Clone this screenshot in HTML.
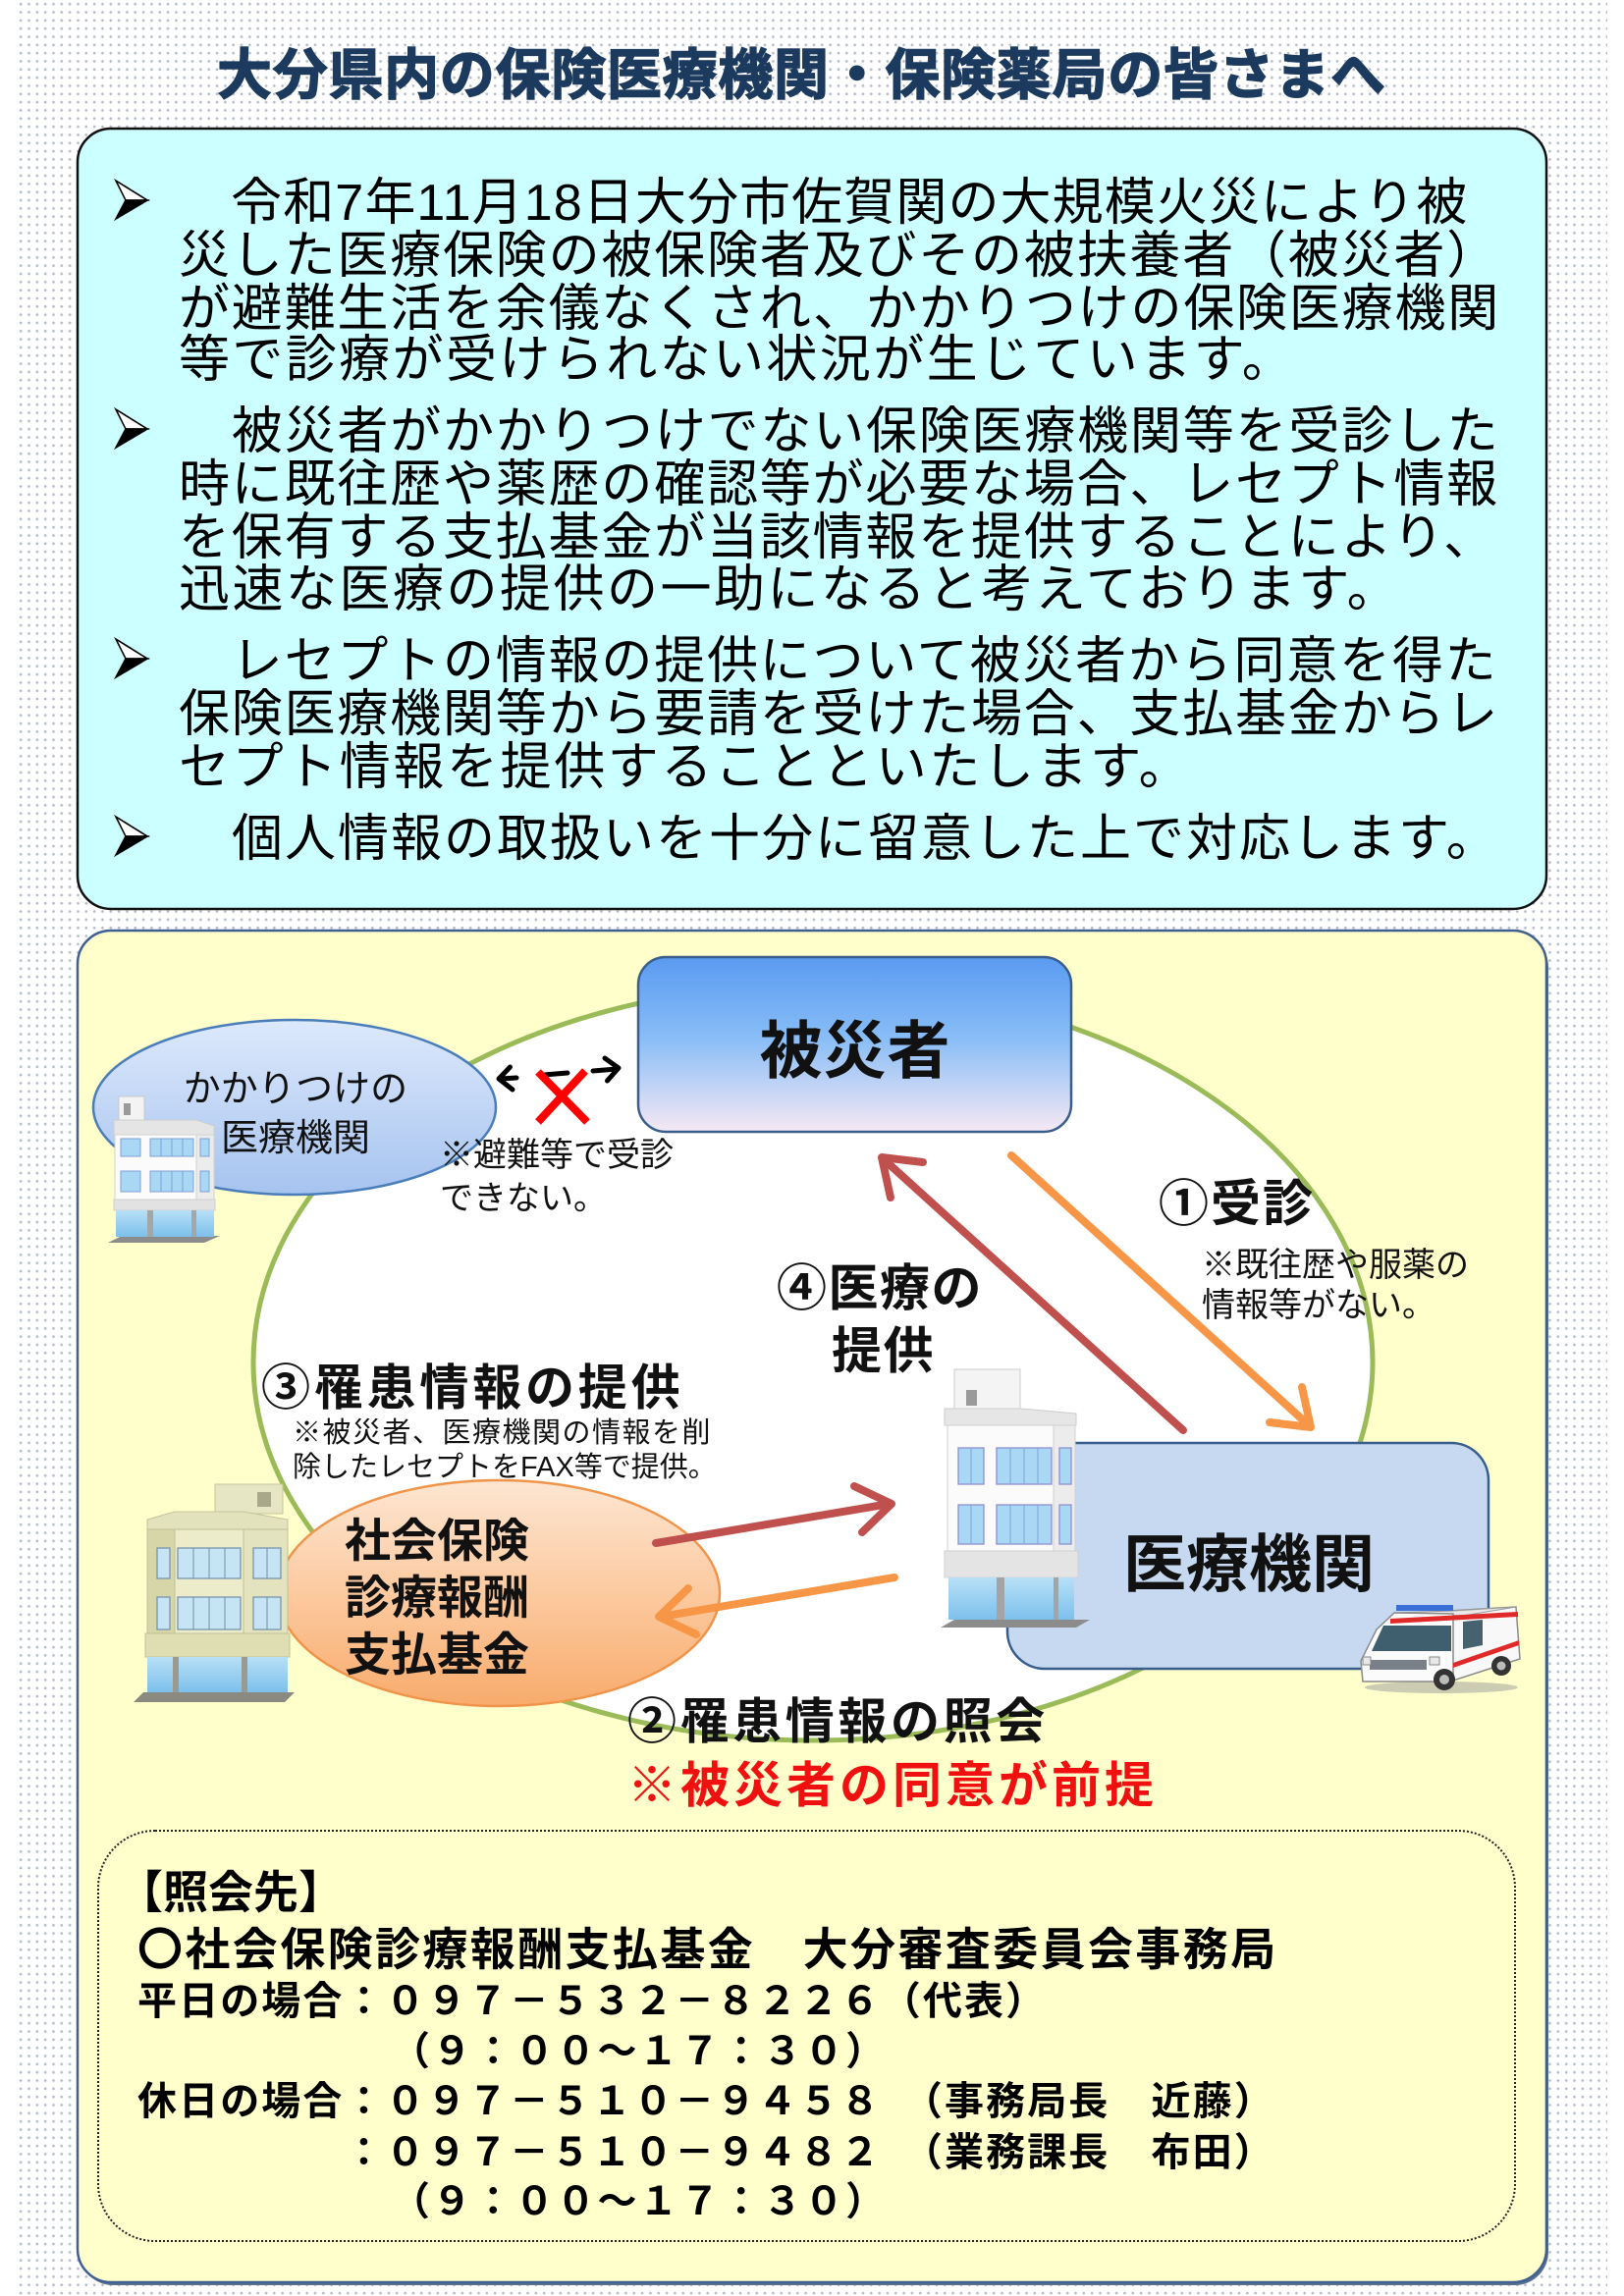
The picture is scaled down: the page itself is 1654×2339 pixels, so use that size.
<!DOCTYPE html>
<html lang="ja"><head><meta charset="utf-8">
<style>
html,body{margin:0;padding:0;background:#fff;}
body{width:1654px;height:2339px;position:relative;overflow:hidden;}
.dots{position:absolute;left:17px;top:0;width:1620px;height:2339px;
 background-image:radial-gradient(circle at center,#b3bbc9 0,#b3bbc9 1px,rgba(255,255,255,0) 1.7px);
 background-size:8.33px 8.33px;}
svg{position:absolute;left:0;top:0;}
text{font-family:"Liberation Sans","Noto Sans CJK JP",sans-serif;white-space:pre;}
.b{font-weight:bold;}
</style></head><body>
<div class="dots"></div>
<svg width="1654" height="2339" viewBox="0 0 1654 2339" xmlns="http://www.w3.org/2000/svg">
<defs>
 <linearGradient id="gHi" x1="0" y1="0" x2="0" y2="1">
  <stop offset="0" stop-color="#5a9af0"/>
  <stop offset="0.45" stop-color="#86bcf7"/>
  <stop offset="1" stop-color="#f6e8f4"/>
 </linearGradient>
 <linearGradient id="gKa" x1="0" y1="0" x2="0" y2="1">
  <stop offset="0" stop-color="#dde9fc"/>
  <stop offset="1" stop-color="#a6c3ef"/>
 </linearGradient>
 <linearGradient id="gOr" x1="0" y1="0" x2="0" y2="1">
  <stop offset="0" stop-color="#fde6d2"/>
  <stop offset="0.5" stop-color="#fccaa0"/>
  <stop offset="1" stop-color="#f8ab6c"/>
 </linearGradient>
 <linearGradient id="gGlass" x1="0" y1="0" x2="0" y2="1">
  <stop offset="0" stop-color="#b8e0f6"/>
  <stop offset="1" stop-color="#7cc0ec"/>
 </linearGradient>
</defs>

<!-- Title -->
<text x="221" y="96" font-size="56" class="b" fill="#1c3a5e" stroke="#1c3a5e" stroke-width="1.4" style="letter-spacing:0.7px">大分県内の保険医療機関・保険薬局の皆さまへ</text>

<!-- Cyan box -->
<rect x="79" y="131" width="1496" height="795" rx="34" fill="#ccffff" stroke="#111" stroke-width="2.5"/>

<!-- bullets -->
<g stroke="#000" stroke-width="1.6" stroke-linejoin="miter">
 <polygon points="118,184 150,204 128,204" fill="#fff"/><polygon points="128,204 150,204 118,223" fill="#000"/>
 <polygon points="118,417 150,437 128,437" fill="#fff"/><polygon points="128,437 150,437 118,456" fill="#000"/>
 <polygon points="118,651 150,671 128,671" fill="#fff"/><polygon points="128,671 150,671 118,690" fill="#000"/>
 <polygon points="118,832 150,852 128,852" fill="#fff"/><polygon points="128,852 150,852 118,871" fill="#000"/>
</g>

<g font-size="52" fill="#000">
 <text x="182" y="224" style="letter-spacing:1.1px">　令和7年11月18日大分市佐賀関の大規模火災により被</text>
 <text x="182" y="278" style="letter-spacing:1.8px">災した医療保険の被保険者及びその被扶養者（被災者）</text>
 <text x="182" y="332" style="letter-spacing:1.8px">が避難生活を余儀なくされ、かかりつけの保険医療機関</text>
 <text x="182" y="384" style="letter-spacing:2.4px">等で診療が受けられない状況が生じています。</text>

 <text x="182" y="457" style="letter-spacing:1.8px">　被災者がかかりつけでない保険医療機関等を受診した</text>
 <text x="182" y="511" style="letter-spacing:1.8px">時に既往歴や薬歴の確認等が必要な場合、レセプト情報</text>
 <text x="182" y="565" style="letter-spacing:1.8px">を保有する支払基金が当該情報を提供することにより、</text>
 <text x="182" y="618" style="letter-spacing:2.5px">迅速な医療の提供の一助になると考えております。</text>

 <text x="182" y="691" style="letter-spacing:1.8px">　レセプトの情報の提供について被災者から同意を得た</text>
 <text x="182" y="745" style="letter-spacing:1.8px">保険医療機関等から要請を受けた場合、支払基金からレ</text>
 <text x="182" y="799" style="letter-spacing:2.6px">セプト情報を提供することといたします。</text>

 <text x="182" y="872" style="letter-spacing:2px">　個人情報の取扱いを十分に留意した上で対応します。</text>
</g>

<!-- Yellow diagram box -->
<rect x="81" y="951" width="1496" height="1377" rx="34" fill="#5a6f8c"/>
<rect x="79" y="948" width="1496" height="1377" rx="34" fill="#ffffcc" stroke="#3f6090" stroke-width="2.5"/>

<!-- green cycle ellipse -->
<ellipse cx="828" cy="1388" rx="570" ry="385" fill="#fff" stroke="#9bbb59" stroke-width="5"/>

<!-- kakaritsuke ellipse -->
<ellipse cx="300" cy="1128" rx="205" ry="89" fill="url(#gKa)" stroke="#4a7ebb" stroke-width="2.5"/>
<text x="301" y="1122" font-size="38" text-anchor="middle" fill="#111">かかりつけの</text>
<text x="301" y="1172" font-size="38" text-anchor="middle" fill="#111">医療機関</text>

<!-- Building A (white, small) -->
<g>
 <polygon points="110,1266 208,1266 224,1259 124,1259" fill="#8c8c8c"/>
 <rect x="121" y="1117" width="26" height="24" fill="#f3f3f3" stroke="#c9c9c9"/>
 <rect x="126" y="1124" width="7" height="12" fill="#9a9a9a"/>
 <polygon points="116,1141 200,1141 218,1147 218,1156 116,1156" fill="#e5e5e5" stroke="#cdcdcd"/>
 <rect x="117" y="1156" width="83" height="66" fill="#fbfbfb" stroke="#d2d2d2"/>
 <rect x="200" y="1156" width="18" height="66" fill="#ececec" stroke="#d2d2d2"/>
 <g fill="#a8d8f4" stroke="#7f9fd6" stroke-width="1">
  <rect x="123" y="1160" width="20" height="18"/><rect x="153" y="1160" width="44" height="18"/><rect x="204" y="1160" width="9" height="18"/>
  <rect x="123" y="1193" width="20" height="21"/><rect x="153" y="1193" width="44" height="21"/><rect x="204" y="1193" width="9" height="21"/>
 </g>
 <g stroke="#7f9fd6" stroke-width="1">
  <line x1="164" y1="1160" x2="164" y2="1178"/><line x1="175" y1="1160" x2="175" y2="1178"/><line x1="186" y1="1160" x2="186" y2="1178"/>
  <line x1="164" y1="1193" x2="164" y2="1214"/><line x1="175" y1="1193" x2="175" y2="1214"/><line x1="186" y1="1193" x2="186" y2="1214"/>
 </g>
 <rect x="116" y="1222" width="103" height="11" fill="#e2e2e2" stroke="#cfcfcf"/>
 <rect x="118" y="1233" width="100" height="27" fill="url(#gGlass)"/>
 <rect x="150" y="1233" width="6" height="27" fill="#a6a6a6"/>
 <rect x="195" y="1233" width="5" height="27" fill="#a6a6a6"/>
</g>

<!-- double arrow with X -->
<g stroke="#000" stroke-width="5" fill="none" stroke-linecap="round" stroke-linejoin="round">
 <polyline points="522,1110 508,1099 519.5,1087"/>
 <line x1="510" y1="1099" x2="526" y2="1098"/>
 <line x1="554" y1="1095" x2="578" y2="1093"/>
 <line x1="604" y1="1091" x2="628" y2="1089"/>
 <polyline points="616,1078 630,1088 618.5,1101"/>
</g>
<g stroke="#ff0000" stroke-width="8" stroke-linecap="butt">
 <line x1="548" y1="1092" x2="598" y2="1143"/>
 <line x1="596" y1="1091" x2="548" y2="1143"/>
</g>
<text x="448" y="1188" font-size="34" fill="#111">※避難等で受診</text>
<text x="448" y="1232" font-size="34" fill="#111">できない。</text>

<!-- Hisaisha box -->
<rect x="650" y="975" width="441" height="178" rx="28" fill="url(#gHi)" stroke="#3a5e8c" stroke-width="2.5"/>
<text x="871" y="1093" font-size="64" class="b" text-anchor="middle" fill="#111" style="letter-spacing:1px">被災者</text>

<!-- arrow 1 (orange) -->
<g stroke="#f79646" stroke-width="8" fill="none" stroke-linecap="round" stroke-linejoin="round">
 <line x1="1030" y1="1177" x2="1333" y2="1452"/>
 <polyline points="1326,1413 1335,1454 1293,1449"/>
</g>
<!-- arrow 4 (red) -->
<g stroke="#c0504d" stroke-width="8" fill="none" stroke-linecap="round" stroke-linejoin="round">
 <line x1="1205" y1="1457" x2="900" y2="1181"/>
 <polyline points="907,1220 898,1179 940,1184"/>
</g>

<text x="1180" y="1244" font-size="51" class="b" fill="#111" style="letter-spacing:2px">①受診</text>
<text x="1224" y="1300" font-size="34" fill="#111">※既往歴や服薬の</text>
<text x="1224" y="1341" font-size="34" fill="#111">情報等がない。</text>

<text x="791" y="1330" font-size="51" class="b" fill="#111" style="letter-spacing:1.5px">④医療の</text>
<text x="847" y="1394" font-size="51" class="b" fill="#111" style="letter-spacing:1.5px">提供</text>

<text x="266" y="1431" font-size="50" class="b" fill="#111" style="letter-spacing:3.8px">③罹患情報の提供</text>

<!-- Shiharai kikin ellipse -->
<ellipse cx="508" cy="1623" rx="225" ry="115" fill="url(#gOr)" stroke="#f0944a" stroke-width="2.5"/>
<text x="298" y="1469" font-size="29" fill="#111" style="letter-spacing:1.5px">※被災者、医療機関の情報を削</text>
<text x="298" y="1504" font-size="29" fill="#111">除したレセプトをFAX等で提供。</text>
<text x="445" y="1586" font-size="47" class="b" text-anchor="middle" fill="#111">社会保険</text>
<text x="445" y="1644" font-size="47" class="b" text-anchor="middle" fill="#111">診療報酬</text>
<text x="445" y="1702" font-size="47" class="b" text-anchor="middle" fill="#111">支払基金</text>

<!-- Building B (beige) -->
<g>
 <polygon points="136,1734 290,1734 300,1724 146,1724" fill="#8a8a80"/>
 <rect x="219" y="1512" width="69" height="30" fill="#e6e6c4" stroke="#c4c49c"/>
 <rect x="262" y="1520" width="14" height="15" fill="#a8a88a"/>
 <polygon points="150,1548 178,1540 248,1540 293,1548 293,1558 150,1558" fill="#e2e2bc" stroke="#c4c49c"/>
 <rect x="150" y="1558" width="28" height="106" fill="#d6d6a8" stroke="#c0c096"/>
 <rect x="178" y="1558" width="70" height="106" fill="#ececca" stroke="#c0c096"/>
 <rect x="248" y="1558" width="45" height="106" fill="#e3e3bf" stroke="#c0c096"/>
 <g fill="#c6e4f4" stroke="#6f8fa8" stroke-width="1.2">
  <rect x="160" y="1577" width="13" height="31"/><rect x="181" y="1577" width="64" height="31"/><rect x="258" y="1577" width="28" height="31"/>
  <rect x="160" y="1627" width="13" height="33"/><rect x="181" y="1627" width="64" height="33"/><rect x="258" y="1627" width="28" height="33"/>
 </g>
 <g stroke="#6f8fa8" stroke-width="1">
  <line x1="197" y1="1577" x2="197" y2="1608"/><line x1="213" y1="1577" x2="213" y2="1608"/><line x1="229" y1="1577" x2="229" y2="1608"/><line x1="272" y1="1577" x2="272" y2="1608"/>
  <line x1="197" y1="1627" x2="197" y2="1660"/><line x1="213" y1="1627" x2="213" y2="1660"/><line x1="229" y1="1627" x2="229" y2="1660"/><line x1="272" y1="1627" x2="272" y2="1660"/>
 </g>
 <rect x="148" y="1664" width="147" height="24" fill="#dedeb2" stroke="#c0c096"/>
 <rect x="150" y="1688" width="143" height="36" fill="url(#gGlass)"/>
 <rect x="176" y="1688" width="6" height="36" fill="#9a9a90"/>
 <rect x="246" y="1688" width="6" height="36" fill="#9a9a90"/>
</g>

<!-- arrow 3 (red) -->
<g stroke="#c0504d" stroke-width="8" fill="none" stroke-linecap="round" stroke-linejoin="round">
 <line x1="668" y1="1572" x2="906" y2="1532"/>
 <polyline points="870,1514 908,1532 878,1561"/>
</g>
<!-- arrow 2 (orange) -->
<g stroke="#f79646" stroke-width="8" fill="none" stroke-linecap="round" stroke-linejoin="round">
 <line x1="911" y1="1607" x2="673" y2="1647"/>
 <polyline points="709,1665 671,1647 701,1618"/>
</g>

<!-- Iryo kikan box -->
<rect x="1026" y="1470" width="490" height="230" rx="38" fill="#c6d9f0" stroke="#385d8a" stroke-width="2.5"/>
<text x="1272" y="1616" font-size="64" class="b" text-anchor="middle" fill="#111">医療機関</text>

<!-- Building C (white, center) -->
<g>
 <polygon points="958,1658 1096,1658 1110,1650 972,1650" fill="#8c8c8c"/>
 <rect x="972" y="1395" width="67" height="40" fill="#f4f4f4" stroke="#cdcdcd"/>
 <rect x="984" y="1416" width="11" height="16" fill="#9a9a9a"/>
 <polygon points="962,1435 1040,1435 1096,1440 1096,1452 962,1452" fill="#e6e6e6" stroke="#cdcdcd"/>
 <rect x="965" y="1452" width="108" height="128" fill="#fbfbfb" stroke="#d0d0d0"/>
 <rect x="1073" y="1452" width="22" height="128" fill="#ececec" stroke="#d0d0d0"/>
 <g fill="#a8d8f4" stroke="#8f8fd0" stroke-width="1.3">
  <rect x="976" y="1475" width="26" height="37"/><rect x="1015" y="1475" width="56" height="37"/><rect x="1079" y="1475" width="12" height="37"/>
  <rect x="976" y="1533" width="26" height="40"/><rect x="1015" y="1533" width="56" height="40"/><rect x="1079" y="1533" width="12" height="40"/>
 </g>
 <g stroke="#7f9fd6" stroke-width="1">
  <line x1="989" y1="1475" x2="989" y2="1512"/><line x1="1029" y1="1475" x2="1029" y2="1512"/><line x1="1043" y1="1475" x2="1043" y2="1512"/><line x1="1057" y1="1475" x2="1057" y2="1512"/>
  <line x1="989" y1="1533" x2="989" y2="1573"/><line x1="1029" y1="1533" x2="1029" y2="1573"/><line x1="1043" y1="1533" x2="1043" y2="1573"/><line x1="1057" y1="1533" x2="1057" y2="1573"/>
 </g>
 <rect x="962" y="1580" width="136" height="27" fill="#e4e4e4" stroke="#d0d0d0"/>
 <rect x="966" y="1607" width="128" height="43" fill="url(#gGlass)"/>
 <rect x="1015" y="1607" width="8" height="43" fill="#a4a4a4"/>
 <rect x="1073" y="1607" width="5" height="43" fill="#a4a4a4"/>
</g>

<!-- Ambulance -->
<g>
 <ellipse cx="1468" cy="1719" rx="78" ry="6" fill="#9a9a9a" opacity="0.5"/>
 <polygon points="1476,1641 1544,1637 1548,1690 1480,1712" fill="#f8f8f8" stroke="#8a8a8a" stroke-width="1.5"/>
 <polygon points="1420,1643 1480,1641 1544,1637 1490,1646" fill="#e8e8e8" stroke="#9a9a9a"/>
 <polygon points="1420,1643 1480,1644 1480,1713 1388,1713 1386,1692 1402,1660" fill="#fbfbfb" stroke="#8a8a8a" stroke-width="1.5"/>
 <polygon points="1409,1656 1478,1656 1478,1682 1397,1682" fill="#3f5f6e"/>
 <polygon points="1490,1652 1510,1650 1510,1676 1490,1680" fill="#46626f"/>
 <polygon points="1416,1649 1546,1642 1546,1647 1416,1654" fill="#e02a2a"/>
 <polygon points="1480,1694 1547,1671 1547,1676 1480,1699" fill="#e02a2a"/>
 <rect x="1422" y="1635" width="58" height="6" fill="#3a6fd8"/>
 <rect x="1395" y="1691" width="58" height="10" fill="#7a8088"/>
 <rect x="1388" y="1688" width="8" height="8" fill="#e8e8e8" stroke="#888"/>
 <rect x="1456" y="1688" width="10" height="8" fill="#e8e8e8" stroke="#888"/>
 <circle cx="1471" cy="1711" r="11" fill="#333"/><circle cx="1471" cy="1711" r="5" fill="#bbb"/>
 <circle cx="1529" cy="1697" r="10" fill="#333"/><circle cx="1529" cy="1697" r="4.5" fill="#bbb"/>
</g>

<!-- bottom labels -->
<text x="639" y="1771" font-size="50" class="b" fill="#111" style="letter-spacing:3.6px">②罹患情報の照会</text>
<text x="639" y="1836" font-size="50" class="b" fill="#f01010" style="letter-spacing:4px">※被災者の同意が前提</text>

<!-- Contact box -->
<rect x="100" y="1865" width="1443" height="418" rx="58" fill="none" stroke="#222" stroke-width="2" stroke-dasharray="2 2"/>
<g class="b" fill="#000">
 <text x="120" y="1944" font-size="46">【照会先】</text>
 <text x="140" y="2002" font-size="46" style="letter-spacing:2.4px">〇社会保険診療報酬支払基金　大分審査委員会事務局</text>
 <text x="140" y="2052" font-size="40" style="letter-spacing:2.1px">平日の場合：０９７－５３２－８２２６（代表）</text>
 <text x="398" y="2103" font-size="40" style="letter-spacing:2.1px">（９：００～１７：３０）</text>
 <text x="140" y="2154" font-size="40" style="letter-spacing:2.1px">休日の場合：０９７－５１０－９４５８　（事務局長　近藤）</text>
 <text x="140" y="2206" font-size="40" style="letter-spacing:2.1px">　　　　　：０９７－５１０－９４８２　（業務課長　布田）</text>
 <text x="398" y="2256" font-size="40" style="letter-spacing:2.1px">（９：００～１７：３０）</text>
</g>
</svg>
</body></html>
